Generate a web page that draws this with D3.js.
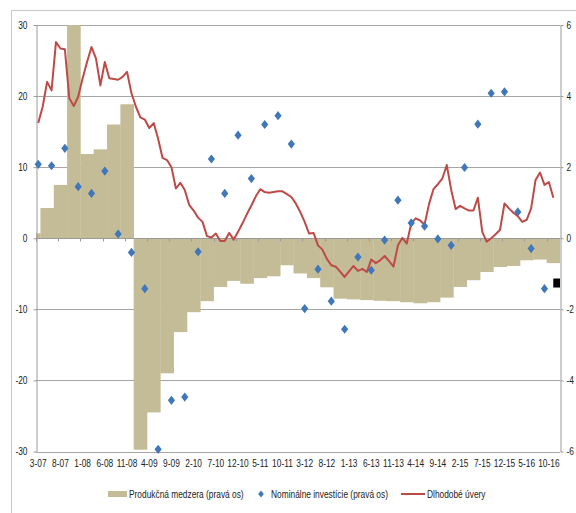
<!DOCTYPE html>
<html>
<head>
<meta charset="utf-8">
<script src="https://cdn.jsdelivr.net/npm/d3@7"></script>
<style>
  html, body { margin: 0; padding: 0; background: #fff; }
  svg { display: block; }
  text { font-family: "Liberation Sans", Arial, sans-serif; fill: #222; }
</style>
</head>
<body>
<svg id="chart" width="576" height="513"></svg>
<script>
// ---------------- DATA ----------------
const months = [
  "3-07","4-07","5-07","6-07","7-07","8-07","9-07","10-07","11-07","12-07",
  "1-08","2-08","3-08","4-08","5-08","6-08","7-08","8-08","9-08","10-08","11-08","12-08",
  "1-09","2-09","3-09","4-09","5-09","6-09","7-09","8-09","9-09","10-09","11-09","12-09",
  "1-10","2-10","3-10","4-10","5-10","6-10","7-10","8-10","9-10","10-10","11-10","12-10",
  "1-11","2-11","3-11","4-11","5-11","6-11","7-11","8-11","9-11","10-11","11-11","12-11",
  "1-12","2-12","3-12","4-12","5-12","6-12","7-12","8-12","9-12","10-12","11-12","12-12",
  "1-13","2-13","3-13","4-13","5-13","6-13","7-13","8-13","9-13","10-13","11-13","12-13",
  "1-14","2-14","3-14","4-14","5-14","6-14","7-14","8-14","9-14","10-14","11-14","12-14",
  "1-15","2-15","3-15","4-15","5-15","6-15","7-15","8-15","9-15","10-15","11-15","12-15",
  "1-16","2-16","3-16","4-16","5-16","6-16","7-16","8-16","9-16","10-16","11-16","12-16"
];

const tickLabels = ["3-07","8-07","1-08","6-08","11-08","4-09","9-09","2-10","7-10","12-10",
  "5-11","10-11","3-12","8-12","1-13","6-13","11-13","4-14","9-14","2-15","7-15","12-15","5-16","10-16"];

const leftTicks = [-30, -20, -10, 0, 10, 20, 30];
const rightTicks = [-6, -4, -2, 0, 2, 4, 6];

// Produkčná medzera (pravá os) – quarterly, by quarter-end month
const gapMonths = ["3-07","6-07","9-07","12-07","3-08","6-08","9-08","12-08","3-09","6-09","9-09","12-09",
  "3-10","6-10","9-10","12-10","3-11","6-11","9-11","12-11","3-12","6-12","9-12","12-12",
  "3-13","6-13","9-13","12-13","3-14","6-14","9-14","12-14","3-15","6-15","9-15","12-15",
  "3-16","6-16","9-16","12-16"];
const gapValues = [0.14, 0.85, 1.5, 6.5, 2.37, 2.5, 3.2, 3.77, -5.95, -4.9, -3.8, -2.64,
  -2.08, -1.77, -1.37, -1.2, -1.28, -1.12, -1.07, -0.76, -0.99, -1.12, -1.38, -1.70,
  -1.72, -1.74, -1.76, -1.77, -1.80, -1.83, -1.80, -1.67, -1.37, -1.18, -0.95, -0.81,
  -0.78, -0.62, -0.60, -0.70];

// Nominálne investície (pravá os) – quarterly
const investMonths = gapMonths.slice(0, 39);
const investValues = [2.08, 2.04, 2.53, 1.45, 1.26, 1.89, 0.12, -0.4, -1.42, -5.94, -4.56, -4.47,
  -0.38, 2.23, 1.26, 2.9, 1.68, 3.2, 3.45, 2.65, -1.98, -0.87, -1.77, -2.56,
  -0.53, -0.9, -0.05, 1.07, 0.43, 0.34, -0.02, -0.2, 1.99, 3.21, 4.08, 4.12,
  0.74, -0.29, -1.42];
const lastMonth = "12-16";
const lastValue = -1.26;

// Dlhodobé úvery – monthly (3-07 .. 11-16)
const loanValues = [16.2, 18.5, 22.0, 20.8, 27.6, 26.7, 26.6, 19.7, 18.6, 19.9,
  22.5, 24.8, 26.9, 25.3, 21.5, 24.8, 22.5, 22.4, 22.3, 22.7, 23.4, 20.4,
  18.5, 17.0, 16.7, 15.5, 16.2, 14.0, 11.3, 11.0, 10.0, 7.0, 7.8, 6.8,
  4.7, 3.9, 2.9, 2.3, 0.3, 0.1, 0.66, -0.4, -0.4, 0.75, -0.2, 0.9,
  2.1, 3.4, 4.6, 5.9, 6.9, 6.5, 6.4, 6.5, 6.6, 6.6, 6.2, 5.8,
  4.9, 3.7, 2.3, 0.66, 0.75, -1.0, -1.6, -2.9, -3.8, -4.0, -4.7, -5.45,
  -4.65, -3.9, -4.6, -4.3, -4.75, -3.0, -3.5, -3.1, -2.5, -3.2, -4.0, -1.0,
  0.05, -0.75, 2.1, 2.8, 2.5, 1.9, 4.8, 6.9, 7.6, 8.4, 10.3, 6.8,
  4.1, 4.55, 4.2, 3.9, 3.9, 5.7, 0.9, -0.5, 0, 0.56, 1.2, 4.9,
  4.2, 3.6, 3.1, 2.3, 2.6, 4.2, 8.2, 9.25, 7.5, 7.9, 5.7];

const legendLabels = ["Produkčná medzera (pravá os)", "Nominálne investície (pravá os)", "Dlhodobé úvery"];

// ---------------- LAYOUT ----------------
const svg = d3.select("#chart");
const plot = { left: 36, right: 560, top: 25, bottom: 451.5 };
const colors = { gap: "#c4bc96", invest: "#3f77ba", loan: "#be4a47", grid: "#a6a6a6", axis: "#9a9a9a" };
const FS = 10.2;      // font size
const NARROW = 0.82;  // horizontal condensing (narrow face emulation)

const x = d3.scaleBand().domain(months).range([plot.left, plot.right]).padding(0);
const bw = x.bandwidth();
const yL = d3.scaleLinear().domain([-30, 30]).range([plot.bottom, plot.top]);
const yR = d3.scaleLinear().domain([-6, 6]).range([plot.bottom, plot.top]);

function narrowText(g, px, py, str, anchor) {
  return g.append("text")
    .attr("transform", `translate(${px},${py}) scale(${NARROW},1)`)
    .attr("text-anchor", anchor || "start")
    .attr("font-size", FS)
    .text(str);
}

svg.append("rect").attr("width", 576).attr("height", 513).attr("fill", "#fff");
// outer chart border
svg.append("rect").attr("x", 11.5).attr("y", 10.5).attr("width", 700).attr("height", 700)
  .attr("fill", "none").attr("stroke", "#c8c8c8").attr("stroke-width", 1);

svg.append("defs").append("clipPath").attr("id", "clip")
  .append("rect").attr("x", plot.left).attr("y", plot.top)
  .attr("width", plot.right - plot.left).attr("height", plot.bottom - plot.top);

// gridlines
svg.append("g").selectAll("line").data(leftTicks.filter(d => d !== 0)).join("line")
  .attr("x1", plot.left).attr("x2", plot.right)
  .attr("y1", d => Math.round(yL(d)) + 0.5).attr("y2", d => Math.round(yL(d)) + 0.5)
  .attr("stroke", colors.grid).attr("stroke-width", 1);

// bars (output gap, right axis)
const gapData = gapMonths.map((m, i) => {
  const endIdx = months.indexOf(m);
  const startIdx = Math.max(0, endIdx - 2);
  return { start: months[startIdx], end: m, v: gapValues[i] };
});
svg.append("g").attr("clip-path", "url(#clip)").selectAll("rect").data(gapData).join("rect")
  .attr("x", d => x(d.start))
  .attr("width", d => x(d.end) + bw - x(d.start) + 0.3)
  .attr("y", d => Math.min(yR(0), yR(d.v)))
  .attr("height", d => Math.abs(yR(d.v) - yR(0)))
  .attr("fill", colors.gap);

// zero axis with ticks
const y0 = Math.round(yL(0)) + 0.5;
svg.append("line").attr("x1", plot.left).attr("x2", plot.right).attr("y1", y0).attr("y2", y0)
  .attr("stroke", colors.axis).attr("stroke-width", 1);
svg.append("g").selectAll("line").data(tickLabels).join("line")
  .attr("x1", d => Math.round(x(d)) + 0.5).attr("x2", d => Math.round(x(d)) + 0.5)
  .attr("y1", y0).attr("y2", y0 + 3)
  .attr("stroke", colors.axis);

// left axis (line + ticks)
const axL = svg.append("g").attr("transform", `translate(${plot.left + 0.5},0)`)
  .call(d3.axisLeft(yL).tickValues(leftTicks).tickSize(3).tickSizeOuter(0).tickFormat(""));
// right axis (line + ticks)
const axR = svg.append("g").attr("transform", `translate(${plot.right + 0.5},0)`)
  .call(d3.axisRight(yR).tickValues(rightTicks).tickSize(3).tickSizeOuter(0).tickFormat(""));
[axL, axR].forEach(ax => {
  ax.select(".domain").attr("stroke", colors.axis);
  ax.selectAll(".tick line").attr("stroke", colors.axis);
});
// axis labels
const labG = svg.append("g");
leftTicks.forEach(t => narrowText(labG, 27.5, yL(t) + 3.6, String(t), "end"));
rightTicks.forEach(t => narrowText(labG, 566.5, yR(t) + 3.6, String(t), "start"));

// line (loans, left axis)
const lineGen = d3.line().x((d, i) => x(months[i]) + bw / 2).y(d => yL(d));
svg.append("path").datum(loanValues).attr("d", lineGen)
  .attr("fill", "none").attr("stroke", colors.loan).attr("stroke-width", 2)
  .attr("stroke-linejoin", "round");

// diamonds (investment, right axis)
const diamond = "M0,-4.6L3.6,0L0,4.6L-3.6,0Z";
svg.append("g").selectAll("path").data(investValues).join("path")
  .attr("d", diamond)
  .attr("transform", (d, i) => `translate(${x(investMonths[i]) + bw / 2},${yR(d)})`)
  .attr("fill", colors.invest);

// last point (black square)
svg.append("g").attr("clip-path", "url(#clip)").append("rect")
  .attr("x", x(lastMonth) + bw / 2 - 4.5).attr("y", yR(lastValue) - 4.5)
  .attr("width", 9).attr("height", 9).attr("fill", "#000");

// x labels
const xl = svg.append("g");
tickLabels.forEach(m => narrowText(xl, x(m) + bw / 2, 467, m, "middle"));

// legend
const lg = svg.append("g");
lg.append("rect").attr("x", 108).attr("y", 491).attr("width", 19).attr("height", 6).attr("fill", colors.gap);
narrowText(lg, 129, 497.5, legendLabels[0]);
lg.append("path").attr("d", "M0,-3.6L2.8,0L0,3.6L-2.8,0Z").attr("transform", "translate(261,494)").attr("fill", colors.invest);
narrowText(lg, 271, 497.5, legendLabels[1]);
lg.append("line").attr("x1", 401).attr("x2", 425).attr("y1", 494).attr("y2", 494)
  .attr("stroke", colors.loan).attr("stroke-width", 2);
narrowText(lg, 427, 497.5, legendLabels[2]);
</script>
</body>
</html>
